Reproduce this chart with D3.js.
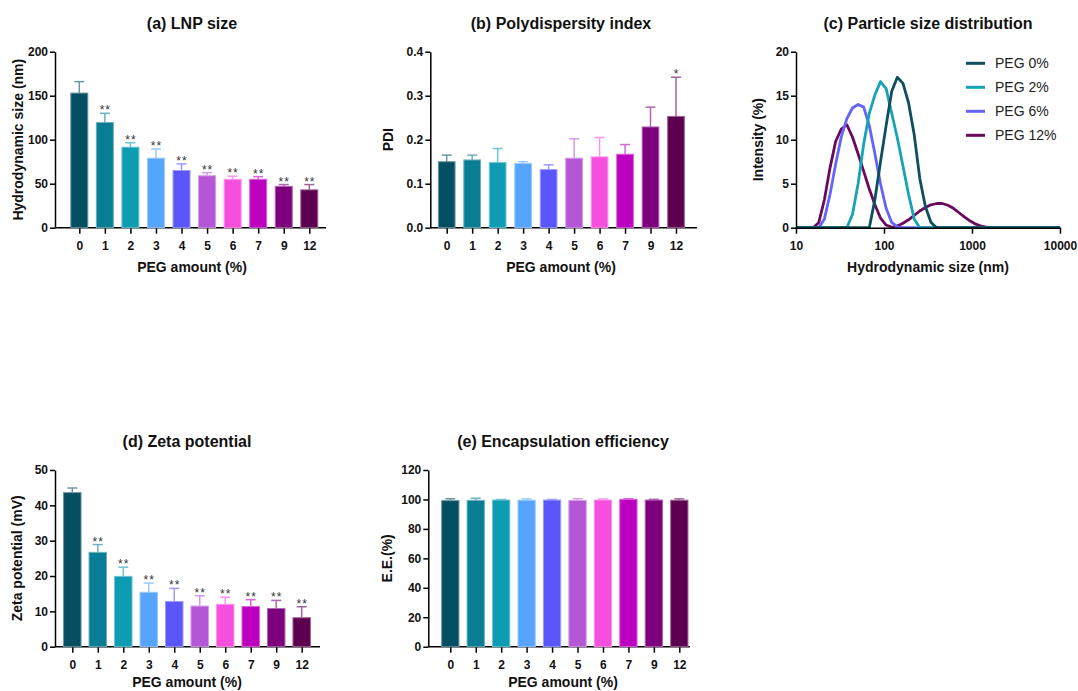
<!DOCTYPE html>
<html lang="en">
<head>
<meta charset="UTF-8">
<title>LNP PEG characterisation</title>
<script src="https://d3js.org/d3.v7.min.js"></script>
<style>
    body { margin: 0; background: #fff; }
    svg text { font-family: "Liberation Sans", Arial, sans-serif; fill: #111; }
    .tick text { font-size: 12px; font-weight: bold; }
    .axis path, .axis line { stroke: #000; stroke-width: 1.5px; }
    .ptitle { font-size: 16px; font-weight: bold; }
    .atitle { font-size: 14px; font-weight: bold; }
    .star { font-size: 12px; fill: #333; letter-spacing: 1px; }
    .legend text { font-size: 14px; fill: #222; }
</style>
</head>
<body>
<svg width="1078" height="691"></svg>
<script>
    // ---- data ----
    const pegLevels = ["0", "1", "2", "3", "4", "5", "6", "7", "9", "12"];
    const barColors = ["#054f63", "#087d93", "#0e9cb3", "#56a5fd", "#5a56f9",
                       "#b556d6", "#f64fdd", "#bd00bf", "#7d007d", "#5e0050"];

    const sizeMean = [153, 119.5, 91.5, 79, 65, 59, 55, 55, 47, 43];
    const sizeSD = [13, 10.5, 5, 10.5, 7.5, 3.5, 3.5, 3, 2, 6];
    const sizeSig = ["", "**", "**", "**", "**", "**", "**", "**", "**", "**"];

    const pdiMean = [0.150, 0.154, 0.148, 0.146, 0.132, 0.158, 0.161, 0.167, 0.229, 0.253];
    const pdiSD = [0.015, 0.011, 0.032, 0.004, 0.011, 0.044, 0.044, 0.022, 0.045, 0.089];
    const pdiSig = ["", "", "", "", "", "", "", "", "", "*"];

    const zetaMean = [43.6, 26.7, 19.9, 15.4, 12.8, 11.5, 12.0, 11.4, 10.8, 8.2];
    const zetaSD = [1.3, 2.2, 2.6, 2.6, 3.7, 2.9, 2.0, 1.9, 2.3, 3.1];
    const zetaSig = ["", "**", "**", "**", "**", "**", "**", "**", "**", "**"];

    const eeMean = [99.2, 99.4, 99.6, 99.5, 99.6, 99.3, 99.6, 100.1, 99.6, 99.5];
    const eeSD = [1.3, 1.4, 0.4, 0.9, 0.4, 1.2, 0.7, 0.4, 0.5, 0.9];
    const eeSig = ["", "", "", "", "", "", "", "", "", ""];

    // DLS size bins (nm) and intensity (%) per bin
    const dlsBins = [10.10, 11.70, 13.54, 15.69, 18.17, 21.04, 24.36, 28.21, 32.67, 37.84,
                     43.82, 50.75, 58.77, 68.06, 78.82, 91.28, 105.7, 122.4, 141.8, 164.2,
                     190.1, 220.2, 255.0, 295.3, 342.0, 396.1, 458.7, 531.2, 615.1, 712.4,
                     825.0, 955.4, 1106, 1281, 1484, 1718, 1990, 2305, 2669, 3091,
                     3580, 4145, 4801, 5560, 6439, 7456, 8635, 10000];
    const dlsPeg0 = [0, 0, 0, 0, 0, 0, 0, 0, 0, 0,
                     0, 0, 0, 0, 3.2, 7.5, 11.6, 15.5, 17.1, 16.4,
                     14.2, 10.6, 5.6, 2.4, 0.6, 0, 0, 0, 0, 0,
                     0, 0, 0, 0, 0, 0, 0, 0, 0, 0,
                     0, 0, 0, 0, 0, 0, 0, 0];
    const dlsPeg2 = [0, 0, 0, 0, 0, 0, 0, 0, 0, 0,
                     1.5, 5.0, 9.5, 13.0, 15.1, 16.6, 15.8, 13.0, 10.2, 7.0,
                     3.8, 1.0, 0, 0, 0, 0, 0, 0, 0, 0,
                     0, 0, 0, 0, 0, 0, 0, 0, 0, 0,
                     0, 0, 0, 0, 0, 0, 0, 0];
    const dlsPeg6 = [0, 0, 0, 0, 0, 1.0, 3.8, 7.2, 10.3, 12.4,
                     13.6, 14.0, 13.7, 11.6, 8.4, 5.0, 2.2, 0.6, 0.1, 0,
                     0, 0, 0, 0, 0, 0, 0, 0, 0, 0,
                     0, 0, 0, 0, 0, 0, 0, 0, 0, 0,
                     0, 0, 0, 0, 0, 0, 0, 0];
    const dlsPeg12 = [0, 0, 0, 0, 0.6, 3.2, 6.8, 9.8, 11.2, 11.7,
                      10.3, 8.4, 6.4, 4.4, 2.6, 1.1, 0.3, 0.05, 0.2, 0.5,
                      0.9, 1.4, 1.9, 2.3, 2.6, 2.75, 2.75, 2.55, 2.2, 1.7,
                      1.2, 0.75, 0.4, 0.17, 0.05, 0, 0, 0, 0, 0,
                      0, 0, 0, 0, 0, 0, 0, 0];
    const dlsLabels = ["PEG 0%", "PEG 2%", "PEG 6%", "PEG 12%"];
    const dlsColors = ["#0d4f5f", "#16a3b5", "#6464fb", "#6a0a5c"];

    const svg = d3.select("svg");

    function lighten(c) {
        return d3.interpolateRgb(c, "#ffffff")(0.4);
    }

    // generic bar panel (GraphPad style: bar + upper SD whisker + stars)
    function barPanel(o) {
        const g = svg.append("g");
        const y = d3.scaleLinear().domain([0, o.yMax]).range([o.bottom, o.top]);
        const x = d3.scalePoint().domain(pegLevels).range([o.firstX, o.lastX]);
        const bw = o.barW;

        g.append("g").attr("class", "axis")
            .attr("transform", `translate(${o.left},0)`)
            .call(d3.axisLeft(y).tickValues(o.ticks).tickFormat(o.fmt)
                .tickSize(5).tickSizeOuter(0).tickPadding(2));

        const xAxis = g.append("g").attr("class", "axis")
            .attr("transform", `translate(0,${o.bottom})`)
            .call(d3.axisBottom(x).tickSize(6).tickSizeOuter(0).tickPadding(8));
        xAxis.select(".domain").remove();
        xAxis.append("line")
            .attr("x1", o.left).attr("x2", o.right)
            .attr("stroke", "#000").attr("stroke-width", 1.5);

        const rows = o.mean.map((m, i) => ({ k: pegLevels[i], m: m, sd: o.sd[i], sig: o.sig[i], c: barColors[i] }));

        const bars = g.append("g").selectAll("g").data(rows).join("g");

        bars.append("line")
            .attr("x1", d => x(d.k)).attr("x2", d => x(d.k))
            .attr("y1", d => y(d.m)).attr("y2", d => y(d.m + d.sd))
            .attr("stroke", d => lighten(d.c)).attr("stroke-width", 1.5);
        bars.append("line")
            .attr("x1", d => x(d.k) - 5).attr("x2", d => x(d.k) + 5)
            .attr("y1", d => y(d.m + d.sd)).attr("y2", d => y(d.m + d.sd))
            .attr("stroke", d => lighten(d.c)).attr("stroke-width", 1.5);

        bars.append("rect")
            .attr("x", d => x(d.k) - bw / 2)
            .attr("width", bw)
            .attr("y", d => y(d.m))
            .attr("height", d => o.bottom - y(d.m))
            .attr("fill", d => d.c)
            .attr("stroke", d => lighten(d.c))
            .attr("stroke-width", 1);

        bars.filter(d => d.sig).append("text")
            .attr("class", "star")
            .attr("text-anchor", "middle")
            .attr("x", d => x(d.k) + 0.5)
            .attr("y", d => y(d.m + d.sd) + 1)
            .text(d => d.sig);

        g.append("text").attr("class", "ptitle")
            .attr("text-anchor", "middle")
            .attr("x", o.titleX).attr("y", o.top - 23)
            .text(o.title);
        g.append("text").attr("class", "atitle")
            .attr("text-anchor", "middle")
            .attr("x", o.titleX).attr("y", Math.min(o.bottom + 44, 687))
            .text("PEG amount (%)");
        g.append("text").attr("class", "atitle")
            .attr("text-anchor", "middle")
            .attr("transform", `translate(${o.yLabelX},${(o.top + o.bottom) / 2}) rotate(-90)`)
            .attr("dy", "0.35em")
            .text(o.yLabel);
    }

    // (a)
    barPanel({
        title: "(a) LNP size", yLabel: "Hydrodynamic size (nm)",
        mean: sizeMean, sd: sizeSD, sig: sizeSig,
        yMax: 200, ticks: [0, 50, 100, 150, 200], fmt: d3.format("d"),
        left: 55, right: 326, top: 51.7, bottom: 227.7,
        firstX: 79.3, lastX: 309.3, barW: 17, titleX: 192, yLabelX: 18
    });

    // (b)
    barPanel({
        title: "(b) Polydispersity index", yLabel: "PDI",
        mean: pdiMean, sd: pdiSD, sig: pdiSig,
        yMax: 0.4, ticks: [0, 0.1, 0.2, 0.3, 0.4], fmt: d3.format(".1f"),
        left: 430.3, right: 697, top: 51.7, bottom: 227.7,
        firstX: 446.7, lastX: 676, barW: 16.7, titleX: 561, yLabelX: 388.3
    });

    // (d)
    barPanel({
        title: "(d) Zeta potential", yLabel: "Zeta potential (mV)",
        mean: zetaMean, sd: zetaSD, sig: zetaSig,
        yMax: 50, ticks: [0, 10, 20, 30, 40, 50], fmt: d3.format("d"),
        left: 55, right: 320, top: 470, bottom: 646.7,
        firstX: 72.3, lastX: 301.7, barW: 17.5, titleX: 187, yLabelX: 17.3
    });

    // (e)
    barPanel({
        title: "(e) Encapsulation efficiency", yLabel: "E.E.(%)",
        mean: eeMean, sd: eeSD, sig: eeSig,
        yMax: 120, ticks: [0, 20, 40, 60, 80, 100, 120], fmt: d3.format("d"),
        left: 428.3, right: 690, top: 470, bottom: 646.7,
        firstX: 450.3, lastX: 679.3, barW: 17.3, titleX: 563, yLabelX: 387.3
    });

    // (c) particle size distribution
    (function () {
        const left = 796, right = 1060, top = 51.7, bottom = 227.7;
        const g = svg.append("g");
        const x = d3.scaleLog().domain([10, 10000]).range([left, right]);
        const y = d3.scaleLinear().domain([0, 20]).range([bottom, top]);

        const series = [dlsPeg0, dlsPeg2, dlsPeg6, dlsPeg12];
        const line = d3.line()
            .x((d, i) => x(dlsBins[i]))
            .y(d => y(d));

        // draw PEG 12% first so the sharper peaks sit on top like the original
        const order = [3, 2, 1, 0];
        g.append("g").selectAll("path").data(order).join("path")
            .attr("d", i => line(series[i]))
            .attr("fill", "none")
            .attr("stroke", i => dlsColors[i])
            .attr("stroke-width", 2.8)
            .attr("stroke-linejoin", "round");

        g.append("g").attr("class", "axis")
            .attr("transform", `translate(${left},0)`)
            .call(d3.axisLeft(y).tickValues([0, 5, 10, 15, 20]).tickSize(5).tickSizeOuter(0).tickPadding(2));

        g.append("g").attr("class", "axis")
            .attr("transform", `translate(0,${bottom})`)
            .call(d3.axisBottom(x).tickValues([10, 100, 1000, 10000]).tickFormat(d3.format("d"))
                .tickSize(6).tickSizeOuter(0).tickPadding(8));

        const leg = g.append("g").attr("class", "legend");
        dlsLabels.forEach((lab, i) => {
            const ly = 63.3 + i * 24;
            leg.append("line")
                .attr("x1", 966).attr("x2", 985).attr("y1", ly).attr("y2", ly)
                .attr("stroke", dlsColors[i]).attr("stroke-width", 3);
            leg.append("text").attr("x", 995).attr("y", ly).attr("dy", "0.36em").text(lab);
        });

        g.append("text").attr("class", "ptitle")
            .attr("text-anchor", "middle")
            .attr("x", 928).attr("y", top - 23)
            .text("(c) Particle size distribution");
        g.append("text").attr("class", "atitle")
            .attr("text-anchor", "middle")
            .attr("x", 928).attr("y", bottom + 44)
            .text("Hydrodynamic size (nm)");
        g.append("text").attr("class", "atitle")
            .attr("text-anchor", "middle")
            .attr("transform", `translate(758.3,${(top + bottom) / 2}) rotate(-90)`)
            .attr("dy", "0.35em")
            .text("Intensity (%)");
    })();
</script>
</body>
</html>
